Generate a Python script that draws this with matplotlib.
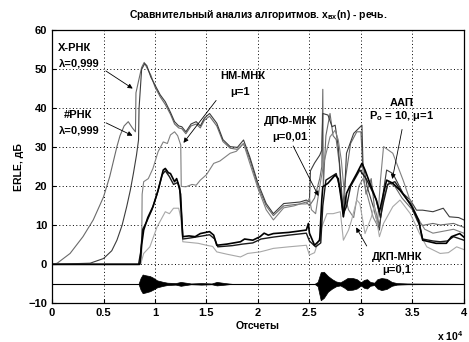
import numpy as np
import matplotlib
matplotlib.use("Agg")
import matplotlib.pyplot as plt

plt.rcParams["font.family"] = ["Liberation Sans", "DejaVu Sans"]
plt.rcParams["font.weight"] = "bold"
plt.rcParams["mathtext.fontset"] = "custom"
plt.rcParams["mathtext.rm"] = "Liberation Sans"
plt.rcParams["mathtext.bf"] = "Liberation Sans:bold"

# --- данные (x в единицах 1e4 отсчетов, ERLE в дБ) ---
rnk_x = [0, 0.05, 0.1, 0.175, 0.3, 0.4, 0.5, 0.56, 0.63, 0.66, 0.70, 0.74, 0.78, 0.81,
         0.815, 0.84, 0.87, 0.895, 0.92, 0.96, 1.0, 1.05, 1.10, 1.15, 1.19, 1.23, 1.26,
         1.30, 1.35, 1.40, 1.44, 1.48, 1.53, 1.60, 1.66, 1.73, 1.80, 1.86, 1.92, 2.0,
         2.08, 2.15, 2.25, 2.41, 2.47, 2.5, 2.55, 2.60, 2.62, 2.63, 2.635, 2.66, 2.70,
         2.73, 2.76, 2.79, 2.82, 2.85, 2.9, 2.96, 3.0, 3.02, 3.05, 3.1, 3.13, 3.18, 3.22,
         3.27, 3.33, 3.4, 3.5, 3.55, 3.6, 3.7, 3.77, 3.9, 4.0]
rnk_y = [0, 0.3, 1.3, 2.8, 7.1, 11.4, 17.3, 22.5, 30.2, 33, 35.5, 36.6, 35, 34,
         44, 47, 50.5, 51.8, 50.5, 48.5, 45.5, 43, 41, 38.5, 36, 35, 34.8,
         33.5, 35.5, 36, 35, 37, 38, 35.5, 31.5, 29.8, 29.5, 31, 27, 20,
         15, 12.5, 15, 15.5, 16, 15, 17, 22, 25, 44.9, 20, 33, 38.7,
         33, 32, 26, 14, 22, 31, 34, 34, 24, 18, 22, 15, 10, 17,
         21, 20, 17, 14, 11, 10, 10.5, 10.1, 10.5, 9.5]

xrnk_x = [0, 0.37, 0.5, 0.58, 0.63, 0.68, 0.725, 0.76, 0.79, 0.82, 0.84, 0.845, 0.86,
          0.87, 0.90, 0.92, 0.96, 1.0, 1.05, 1.10, 1.15, 1.19, 1.23, 1.26, 1.30, 1.35,
          1.40, 1.44, 1.48, 1.53, 1.60, 1.66, 1.73, 1.80, 1.86, 1.92, 2.0, 2.08, 2.15,
          2.25, 2.41, 2.47, 2.50, 2.51, 2.55, 2.60, 2.62, 2.63, 2.68, 2.72, 2.75, 2.78,
          2.81, 2.83, 2.86, 2.93, 3.01, 3.02, 3.06, 3.12, 3.18, 3.22, 3.25, 3.31, 3.41,
          3.48, 3.54, 3.60, 3.70, 3.80, 3.86, 3.95, 4.0]
xrnk_y = [0, 0.3, 1.5, 3.5, 6.2, 10, 14.8, 19, 23.3, 28, 31.9, 40, 46,
          50, 51.5, 51, 48, 46, 43.5, 41.7, 39, 36.6, 35.5, 35.3, 34, 36,
          36.6, 35.5, 37.5, 38.7, 36.2, 32, 30.2, 30, 31.9, 27.6, 20.8, 15.6, 13,
          15.6, 16, 16.5, 16, 24, 26, 28, 29.3, 38.7, 38.3, 35.3, 35.7, 30.2,
          19.9, 12.2, 28.5, 33.6, 35.7, 26, 20, 14.8, 8.8, 19, 24.2, 23.3, 18.2,
          16.5, 13.9, 13.9, 13.5, 14.4, 12.2, 12, 11.4]

nm_x = [0, 0.86, 0.87, 0.875, 0.89, 0.935, 0.98, 1.03, 1.08, 1.12, 1.15, 1.19, 1.22,
        1.25, 1.255, 1.30, 1.36, 1.40, 1.44, 1.50, 1.57, 1.63, 1.68, 1.73, 1.79, 1.86,
        1.92, 2.0, 2.08, 2.15, 2.25, 2.35, 2.41, 2.47, 2.5, 2.52, 2.56, 2.6, 2.64, 2.7,
        2.75, 2.78, 2.81, 2.84, 2.88, 2.93, 2.98, 3.02, 3.08, 3.12, 3.16, 3.19, 3.22,
        3.31, 3.41, 3.47, 3.55, 3.62, 3.7, 3.8, 3.9, 4.0]
nm_y = [0, 0, 3, 18, 21.2, 22, 24.6, 28.9, 31.4, 31, 33.2, 34, 33,
        30.6, 20, 19.9, 20.5, 20.3, 21.6, 23, 25.9, 26.5, 27.5, 28.5, 29, 31,
        26, 19.5, 14, 11.4, 14.5, 15, 15.5, 15.5, 17, 14, 13, 20, 26, 32.7,
        34.4, 31.9, 26.7, 18, 14, 12, 20, 22, 16, 12, 10, 21.6, 30.2,
        28.5, 21.6, 17, 12, 9, 8, 8.5, 9, 8]

dpf_x = [0, 0.85, 0.854, 0.87, 0.89, 0.93, 0.98, 1.03, 1.08, 1.10, 1.13, 1.15, 1.19,
         1.21, 1.24, 1.27, 1.33, 1.39, 1.44, 1.53, 1.57, 1.60, 1.7, 1.83, 1.87, 1.95,
         2.02, 2.06, 2.1, 2.15, 2.3, 2.47, 2.49, 2.5, 2.55, 2.60, 2.62, 2.63, 2.68,
         2.75, 2.78, 2.81, 2.83, 2.86, 2.89, 2.96, 3.01, 3.04, 3.10, 3.15, 3.18, 3.22,
         3.25, 3.31, 3.38, 3.48, 3.56, 3.60, 3.73, 3.83, 3.88, 3.96, 4.0]
dpf_y = [0, 0, 0.3, 5, 8.8, 12, 14.8, 19, 24.2, 24.6, 23.5, 23.3, 21.2,
         22, 19.5, 7.1, 7.3, 7.1, 7.9, 8.4, 7.5, 4.9, 5.2, 5.8, 6.5, 6.2,
         7.1, 8, 7.5, 7.9, 8.2, 8.8, 10.5, 8, 4.9, 6.2, 16.5, 19.9, 20.8,
         22.9, 22, 16.5, 12.2, 18.2, 19.9, 23.3, 25.9, 24.2, 19.9, 16.5, 13.5, 18.2,
         21.6, 20.8, 19, 15.6, 11.4, 6.2, 5.4, 5.4, 7.1, 7.9, 7]

aap_x = [0, 0.84, 0.86, 0.88, 0.92, 0.97, 1.02, 1.07, 1.10, 1.14, 1.18, 1.22, 1.25,
         1.27, 1.35, 1.44, 1.53, 1.58, 1.61, 1.75, 1.85, 1.95, 2.03, 2.15, 2.3, 2.47,
         2.5, 2.56, 2.61, 2.63, 2.66, 2.76, 2.80, 2.83, 2.86, 2.9, 2.99, 3.05, 3.09,
         3.15, 3.19, 3.22, 3.26, 3.33, 3.4, 3.5, 3.57, 3.60, 3.7, 3.77, 3.84, 3.90, 4.0]
aap_y = [0, 0, 3, 9, 11, 14, 18, 23, 24, 22.5, 20.5, 21, 18,
         6.5, 6.8, 7.2, 7.6, 6.5, 4.5, 4.8, 5.2, 5.5, 6.5, 7, 7.5, 8,
         6, 4.5, 5.5, 15, 21.6, 23.3, 19, 13, 14.8, 20, 24.2, 22, 19.9,
         16.5, 12, 16, 20.5, 21.2, 18.5, 14.5, 10, 6.5, 6, 5.8, 6, 7.1, 6.2]

dkp_x = [0, 0.86, 0.89, 0.95, 1.02, 1.10, 1.14, 1.18, 1.23, 1.25, 1.27, 1.42, 1.50,
         1.56, 1.60, 1.7, 1.83, 1.9, 2.02, 2.08, 2.15, 2.3, 2.47, 2.5, 2.55, 2.60, 2.62,
         2.67, 2.73, 2.80, 2.83, 2.88, 2.91, 2.96, 2.99, 3.04, 3.1, 3.13, 3.18, 3.22,
         3.31, 3.38, 3.48, 3.57, 3.64, 3.77, 3.85, 3.93, 4.0]
dkp_y = [0, 0, 2.8, 4.5, 9.6, 13.5, 13, 14.4, 14.4, 12, 5.8, 5.4, 4.9,
         4.6, 3.2, 2.6, 1.9, 2.8, 3.2, 3.6, 4.1, 4.5, 4.9, 2.4, 3, 7.1, 9.6,
         13, 13, 13.5, 6.2, 8.8, 11.4, 16.5, 15.6, 7.9, 12, 14.8, 7.1, 10.5,
         14.8, 16.5, 13, 7.9, 4.5, 2.8, 3, 4.5, 3.8]

# огибающая сигнала речи (уровень -5 дБ)
sp_x = [0, 0.84, 0.86, 0.88, 0.91, 0.95, 0.98, 1.02, 1.08, 1.12, 1.2, 1.25, 1.3, 1.35,
        1.45, 1.55, 1.6, 1.68, 1.75, 2.55, 2.58, 2.61, 2.64, 2.68, 2.72, 2.76, 2.8,
        2.84, 2.87, 2.92, 2.96, 3.0, 3.03, 3.06, 3.09, 3.13, 3.16, 3.2, 3.25, 3.3,
        3.35, 3.45, 4.0]
sp_hi = [0, 0, 1.5, 2.4, 2.2, 2.0, 1.6, 0.9, 0.5, 0.3, 0.2, 0.5, 0.3, 0.1,
         0.2, 0.1, 0.5, 0.2, 0, 0, 0.5, 3.0, 3.1, 2.0, 1.2, 0.6, 0.4,
         1.0, 1.5, 1.5, 1.2, 0.4, 1.0, 1.2, 0.5, 0.3, 1.2, 1.5, 1.3, 0.5,
         0.2, 0.1, 0]
sp_lo = [0, 0, 1.5, 2.4, 2.2, 1.9, 1.5, 0.9, 0.5, 0.3, 0.2, 0.5, 0.3, 0.1,
         0.2, 0.1, 0.4, 0.2, 0, 0, 0.6, 4.2, 3.6, 2.0, 1.2, 0.6, 0.4,
         1.0, 1.6, 1.5, 1.2, 0.4, 1.0, 1.2, 0.5, 0.3, 1.2, 1.6, 1.3, 0.5,
         0.2, 0.1, 0]
sp_level = -5

xtick_labels = ["0", "0.5", "1", "1.5", "2", "2.5", "3", "3.5", "4"]

fig = plt.figure(figsize=(4.69, 3.42), dpi=100)
ax = fig.add_axes([0.111, 0.113, 0.878, 0.798])

ax.plot(rnk_x, rnk_y, color="#6a6a6a", lw=0.8)
ax.plot(xrnk_x, xrnk_y, color="#3c3c3c", lw=0.8)
ax.plot(nm_x, nm_y, color="#808080", lw=0.8)
ax.plot(dkp_x, dkp_y, color="#a8a8a8", lw=0.8)
ax.plot(aap_x, aap_y, color="#1a1a1a", lw=1.0)
ax.plot(dpf_x, dpf_y, color="black", lw=1.2)

ax.axhline(sp_level, color="black", lw=0.8)
sp_top = np.array(sp_hi) + sp_level
sp_bot = sp_level - np.array(sp_lo)
ax.fill_between(sp_x, sp_bot, sp_top, color="black", lw=0.5)

ax.set_xlim(0, 4)
ax.set_ylim(-10, 60)
ax.set_xticks(np.arange(0, 4.01, 0.5))
ax.set_xticklabels(xtick_labels)
ax.set_yticks(np.arange(-10, 61, 10))
ax.tick_params(direction="in", length=3, labelsize=8, width=0.8)
ax.grid(True, color="black", ls=(0, (1, 2.5)), lw=0.7)
for s in ax.spines.values():
    s.set_linewidth(0.9)

ax.set_title("Сравнительный анализ алгоритмов. x$_{\\mathbf{вх}}$(n) - речь.",
             fontsize=7.5, fontweight="bold", pad=9)
ax.set_xlabel("Отсчеты", fontsize=7.5, fontweight="bold", labelpad=2)
ax.set_ylabel("ERLE, дБ", fontsize=7.5, fontweight="bold", labelpad=3)
ax.text(4.0, -16.6, "x 10$^\\mathbf{4}$", fontsize=7.5, fontweight="bold",
        ha="right", va="top", clip_on=False)

# подписи и стрелки
arr = dict(arrowstyle="-|>", color="black", lw=0.6, mutation_scale=7)
fs = 8
ax.text(0.223, 55.4, "X-РНК", fontsize=fs, ha="center", va="center")
ax.text(0.262, 51.5, "λ=0,999", fontsize=fs, ha="center", va="center")
ax.annotate("", xy=(0.806, 44.7), xytext=(0.50, 50), arrowprops=arr)
ax.text(0.252, 38.3, "#РНК", fontsize=fs, ha="center", va="center")
ax.text(0.262, 34.4, "λ=0,999", fontsize=fs, ha="center", va="center")
ax.annotate("", xy=(0.806, 32.7), xytext=(0.50, 36.6), arrowprops=arr)

ax.text(1.85, 48.3, "НМ-МНК", fontsize=fs, ha="center", va="center")
ax.text(1.83, 44.3, "μ=1", fontsize=fs, ha="center", va="center")
ax.annotate("", xy=(1.26, 30.6), xytext=(1.61, 42.6), arrowprops=arr)

ax.text(2.32, 36.8, "ДПФ-МНК", fontsize=fs, ha="center", va="center")
ax.text(2.31, 32.7, "μ=0,01", fontsize=fs, ha="center", va="center")
ax.annotate("", xy=(2.60, 16.9), xytext=(2.33, 31), arrowprops=arr)

ax.text(3.40, 41.5, "ААП", fontsize=fs, ha="center", va="center")
ax.text(3.395, 38.1, "P$_\\mathbf{o}$ = 10, μ=1", fontsize=fs, ha="center", va="center")
ax.annotate("", xy=(3.30, 21.2), xytext=(3.405, 35.3), arrowprops=arr)

ax.text(3.35, 1.95, "ДКП-МНК", fontsize=fs, ha="center", va="center")
ax.text(3.35, -1.5, "μ=0,1", fontsize=fs, ha="center", va="center")
ax.annotate("", xy=(2.94, 10.1), xytext=(3.07, 4.1), arrowprops=arr)

plt.savefig("out.png", dpi=100)
plt.close()
